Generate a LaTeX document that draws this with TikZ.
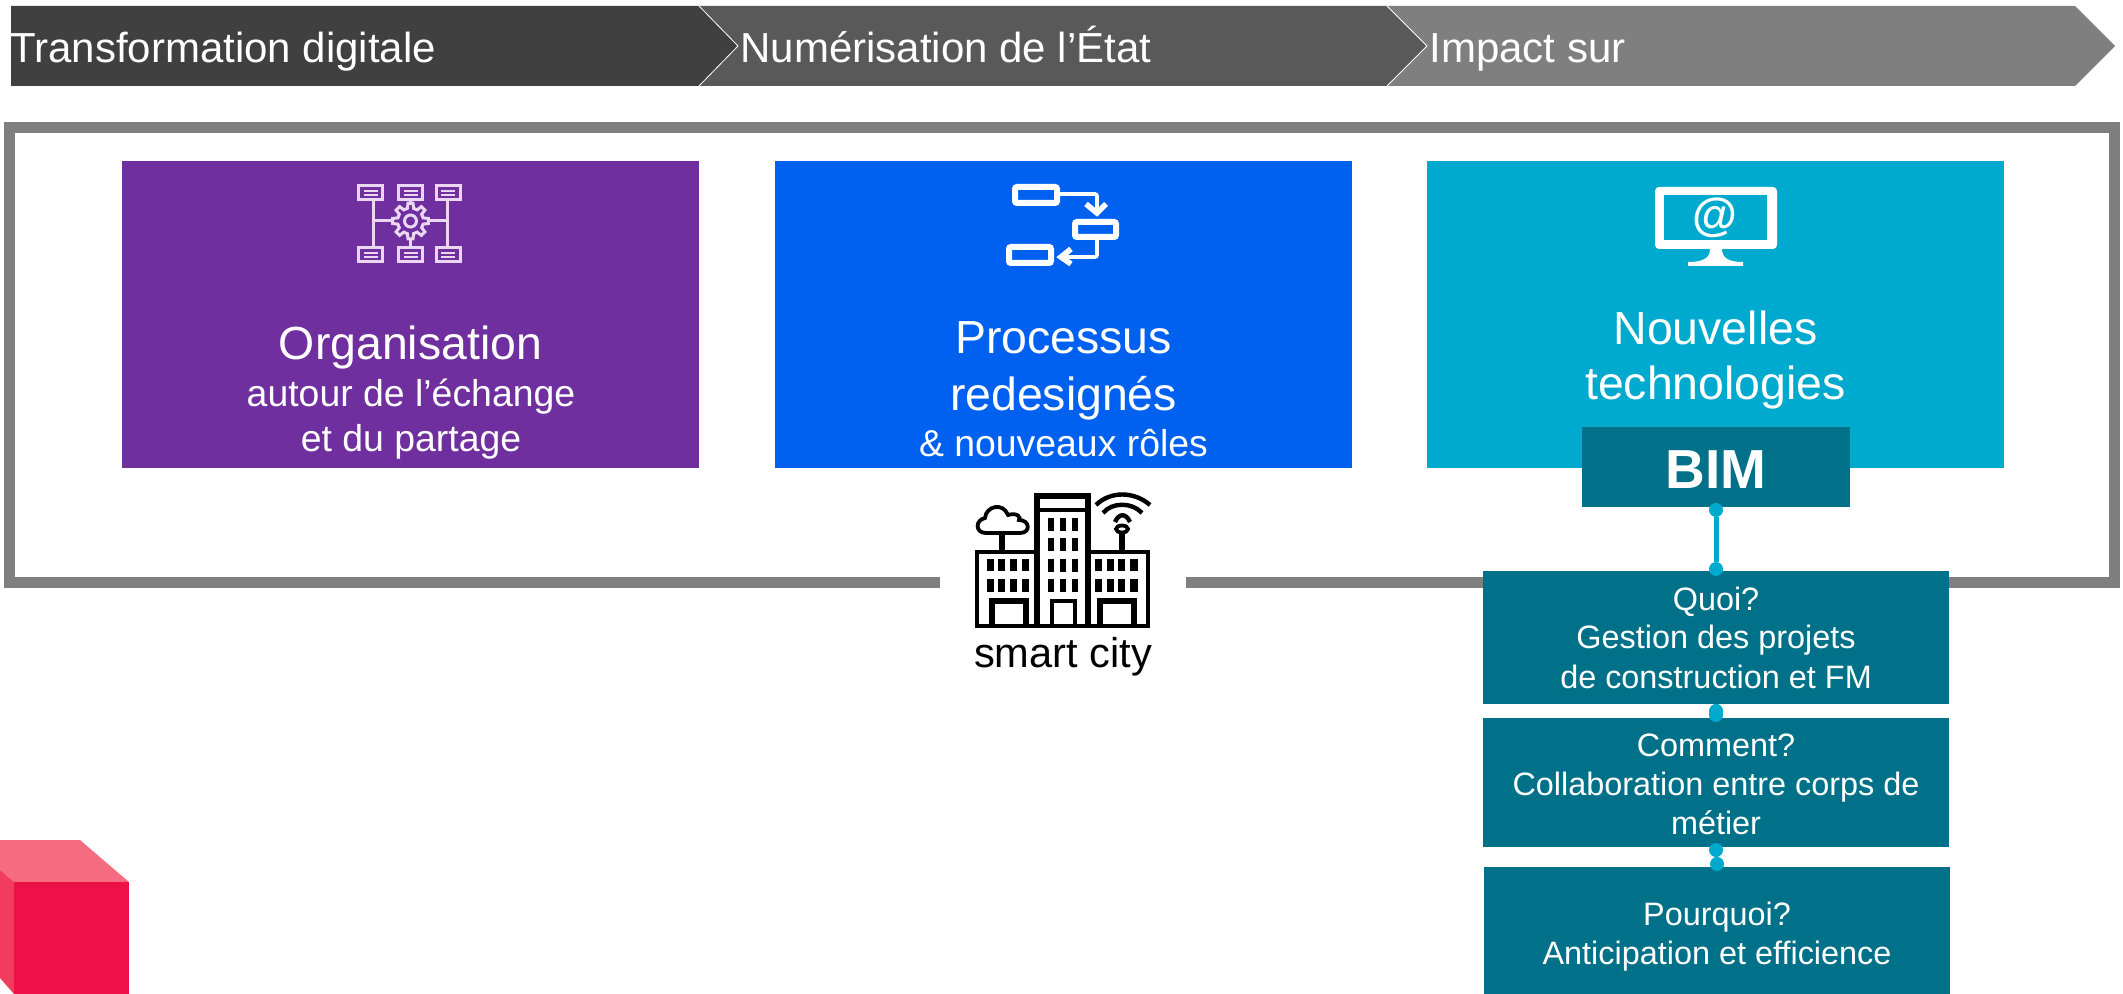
\documentclass[tikz,border=0pt]{standalone}
\usepackage{fontspec}
\setmainfont{Liberation Sans}
\definecolor{chA}{HTML}{404040}
\definecolor{chB}{HTML}{595959}
\definecolor{chC}{HTML}{7F7F7F}
\definecolor{violetBox}{HTML}{6F2F9F}
\definecolor{blueBox}{HTML}{0060F0}
\definecolor{tealBox}{HTML}{00A9CE}
\definecolor{deepTeal}{HTML}{007188}
\definecolor{cubeFront}{HTML}{EE1148}
\definecolor{cubeTop}{HTML}{F56C80}
\definecolor{cubeSide}{HTML}{F23C5E}
\definecolor{iconLilac}{HTML}{EAD8F3}
\tikzset{
  panel/.style={draw=none,inner sep=0pt,outer sep=0pt,minimum width=288.5pt,minimum height=153.5pt},
  tealpanel/.style={draw=none,fill=deepTeal,inner sep=0pt,outer sep=0pt,minimum width=233pt},
  title/.style={anchor=base west,inner sep=0pt,text=white,font=\fontsize{21}{25}\selectfont},
  big/.style={anchor=base,inner sep=0pt,text=white,font=\fontsize{23.2}{27}\selectfont},
  small/.style={anchor=base,inner sep=0pt,text=white,font=\fontsize{18.7}{22}\selectfont},
  body/.style={anchor=base,inner sep=0pt,text=white,font=\fontsize{16.2}{20}\selectfont},
  dot/.style={circle,fill=tealBox,inner sep=0pt,minimum size=7pt},
  link/.style={draw=tealBox,line width=2.5pt},
  orgline/.style={draw=iconLilac,line width=1.5pt},
  proc/.style={draw=white,line width=3pt,rounded corners=1pt},
  city/.style={draw=black,line width=1.9pt},
  cityb/.style={draw=black,line width=3pt},
}
\begin{document}
\begin{tikzpicture}[x=0.5pt,y=-0.5pt]
\useasboundingbox (0,0) rectangle (2123,994);
% chevrons
\fill[chC] (1387,6) -- (2075,6) -- (2115,46) -- (2075,86) -- (1387,86) -- (1427,46) -- cycle;
\fill[chB] (699,6) -- (1387,6) -- (1427,46) -- (1387,86) -- (699,86) -- (738,46) -- cycle;
\fill[chA] (11,6) -- (699,6) -- (738,46) -- (699,86) -- (11,86) -- cycle;
\draw[white,line width=0.4pt] (699,6) -- (738,46) -- (699,86);
\draw[white,line width=0.4pt] (1387,6) -- (1427,46) -- (1387,86);
\node[title] (t1) at (10,62.5) {Transformation digitale};
\node[title] (t2) at (740,62.5) {Numérisation de l’État};
\node[title] (t3) at (1429,62.5) {Impact sur};
% frame
\draw[chC,line width=5.5pt,miter limit=10] (940,582.5) -- (9.5,582.5) -- (9.5,127.5) -- (2114.5,127.5) -- (2114.5,582.5) -- (1186,582.5);
% panels
\node[panel,fill=violetBox] (org) at (410.5,314.5) {};
\node[panel,fill=blueBox] (proc) at (1063.5,314.5) {};
\node[panel,fill=tealBox] (tech) at (1715.5,314.5) {};
\node[big] (o1) at (410.5,359) {Organisation};
\node[small] (o2) at (411,406) {autour de l’échange};
\node[small] (o3) at (411,451) {et du partage};
\node[big] (p1) at (1063.5,353) {Processus};
\node[big] (p2) at (1063.5,410) {redesignés};
\node[small] (p3) at (1063.5,456) {\& nouveaux rôles};
\node[big] (n1) at (1715.5,344) {Nouvelles};
\node[big] (n2) at (1715.5,400) {technologies};
% organisation icon
\foreach \cx in {370.5,410.5,448}{
  \draw[orgline] (\cx-12,186) rectangle (\cx+12,200);
  \draw[orgline] (\cx-12,248) rectangle (\cx+12,262);
  \draw[orgline,line width=0.9pt] (\cx-7,191) -- (\cx+7,191) (\cx-7,195) -- (\cx+7,195);
  \draw[orgline,line width=0.9pt] (\cx-7,253) -- (\cx+7,253) (\cx-7,257) -- (\cx+7,257);
}
\draw[orgline] (373,200) -- (373,248) (447,200) -- (447,248) (410.5,200) -- (410.5,205) (410.5,238) -- (410.5,248) (373,221) -- (392,221) (429,221) -- (447,221);
\begin{scope}[shift={(410.5,221)}]
\draw[orgline] (-14:13)
  \foreach \a in {0,45,...,315}{ -- (\a-14:13) -- (\a-8:18) -- (\a+8:18) -- (\a+14:13) } -- cycle;
\draw[orgline] (0,0) circle[radius=6];
\end{scope}
% process icon
\draw[proc] (1015,187) rectangle (1057,203);
\draw[proc] (1075,222) rectangle (1116,237);
\draw[proc] (1009,247) rectangle (1051,263);
\draw[proc,line width=1.8pt] (1059,194) -- (1097,194) -- (1097,211);
\draw[proc,line width=2.8pt,rounded corners=0pt] (1086,204) -- (1097,213) -- (1106,204);
\draw[proc,line width=1.8pt] (1097,239) -- (1097,257) -- (1064,257);
\draw[proc,line width=2.8pt,rounded corners=0pt] (1071,249) -- (1061,257) -- (1071,264);
% monitor icon
\fill[white,rounded corners=2pt] (1655,187) rectangle (1777,249);
\fill[tealBox] (1664,195) rectangle (1767,240);
\fill[white] (1710,249) -- (1722,249) .. controls (1722,257) and (1727,262) .. (1743,262) -- (1743,266) -- (1688,266) -- (1688,262) .. controls (1705,262) and (1710,257) .. (1710,249) -- cycle;
\node[inner sep=0pt,text=white,font=\bfseries\fontsize{23}{27}\selectfont] (at) at (1715,218) {@};
% smart city icon
\draw[cityb] (1037,627) -- (1037,496) -- (1088,496) -- (1088,627);
\draw[city] (1037,510) -- (1088,510);
\draw[city] (1037,552) -- (977,552) -- (977,626) -- (1148,626) -- (1148,552) -- (1088,552);
\foreach \wx/\ww in {987/7,998/7,1010/7,1022/7,1095/7,1107/7,1118/7,1130/8}{
  \fill (\wx,559) rectangle (\wx+\ww,571);
  \fill (\wx,579) rectangle (\wx+\ww,592);
}
\foreach \wx in {1047.5,1060,1072}{
  \foreach \wy in {518,538,559,579}{
    \fill (\wx,\wy) rectangle (\wx+6,\wy+13);
  }
}
\draw[city,line width=2.7pt] (992,626) -- (992,601) -- (1026,601) -- (1026,626);
\draw[city,line width=2.2pt] (1052,626) -- (1052,601) -- (1075,601) -- (1075,626);
\draw[city,line width=2.7pt] (1100,626) -- (1100,601) -- (1134,601) -- (1134,626);
\draw[city] (986,533) .. controls (975,533) and (975,520) .. (985,518) .. controls (986,506) and (1003,502) .. (1008,515) .. controls (1018,512) and (1021,518) .. (1019,520) .. controls (1030,520) and (1031,533) .. (1020,533) -- cycle;
\draw[cityb] (1002,534) -- (1002,551);
\draw[cityb] (1122,534) -- (1122,551);
\draw[city] (1122,529) ellipse[x radius=6,y radius=3.5];
\draw[city,line width=2.2pt] (1096,505) .. controls (1110,491) and (1134,491) .. (1150,505);
\draw[city,line width=2.2pt] (1103,513) .. controls (1112,502) and (1132,502) .. (1142,513);
\draw[city,line width=2.2pt] (1115,522) .. controls (1119,513) and (1126,513) .. (1130,522);
\node[anchor=base,inner sep=0pt,text=black,font=\fontsize{20.8}{24}\selectfont] (sc) at (1063,667) {smart city};
% BIM column
\node[draw=none,fill=deepTeal,inner sep=0pt,outer sep=0pt,minimum width=134pt,minimum height=40pt] (bim) at (1716,467) {};
\node[anchor=base,inner sep=0pt,text=white,font=\bfseries\fontsize{27.5}{32}\selectfont] (bimt) at (1716,488) {BIM};
\node[tealpanel,minimum height=66.5pt] (quoi) at (1716,637.5) {};
\node[tealpanel,minimum height=64.5pt] (comment) at (1716,782.5) {};
\node[tealpanel,minimum height=63.5pt] (pourquoi) at (1717,930.5) {};
\node[body] (q1) at (1716,610) {Quoi?};
\node[body] (q2) at (1716,648.5) {Gestion des projets};
\node[body] (q3) at (1716,688.5) {de construction et FM};
\node[body] (c1) at (1716,756) {Comment?};
\node[body] (c2) at (1716,795) {Collaboration entre corps de};
\node[body] (c3) at (1716,834) {métier};
\node[body] (w1) at (1717,925) {Pourquoi?};
\node[body] (w2) at (1717,964) {Anticipation et efficience};
\node[dot] (d1) at (1716,510) {};
\node[dot] (d2) at (1716,569) {};
\node[dot] (d3) at (1716,711) {};
\node[dot] (d4) at (1716,715) {};
\node[dot] (d5) at (1716,850) {};
\node[dot] (d6) at (1717,864) {};
\draw[link] (d1) -- (d2);
\draw[link] (d3) -- (d4);
\draw[link] (d5) -- (d6);
% cube
\fill[cubeTop] (0,840) -- (80,840) -- (129,882) -- (14,882) -- (0,870) -- cycle;
\fill[cubeSide] (0,870) -- (14,882) -- (14,994) -- (0,978) -- cycle;
\fill[cubeFront] (14,882) rectangle (129,994);
\end{tikzpicture}
\end{document}
